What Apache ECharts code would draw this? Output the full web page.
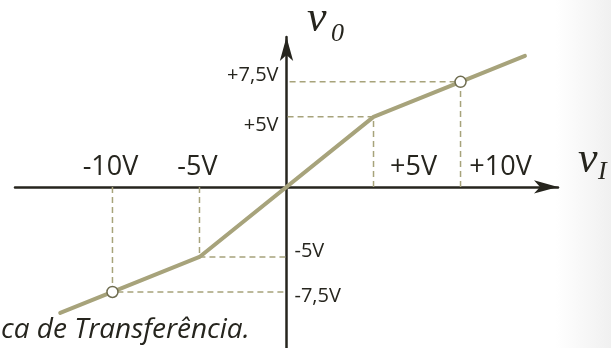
<!DOCTYPE html>
<html>
<head>
<meta charset="utf-8">
<script src="https://cdn.jsdelivr.net/npm/echarts@6/dist/echarts.min.js"></script>
<style>
  html, body { margin: 0; padding: 0; }
  body { background: linear-gradient(to right, #ffffff 91%, #f0f0f0 100%); }
  #main { width: 611px; height: 348px; }
</style>
</head>
<body>
<div id="main"></div>
<script>
// transfer characteristic v0 = f(vI), in volts
var vIn  = [-13, -10, -5, 5, 10, 13.7];
var vOut = [-9, -7.5, -5, 5, 7.5, 9.35];

// points that get dashed guides to both axes
var kneeIn  = [-10, -5, 5, 10];
var kneeOut = [-7.5, -5, 5, 7.5];

// open circles
var ringIn  = [-10, 10];
var ringOut = [-7.5, 7.5];

// tick labels
var xTicks = [-10, -5, 5, 10];
var xTickNames = ['-10V', '-5V', '+5V', '+10V'];
var yTicks = [7.5, 5, -5, -7.5];
var yTickNames = ['+7,5V', '+5V', '-5V', '-7,5V'];

var ink = '#26251e';
var olive = '#a7a37b';

var chart = echarts.init(document.getElementById('main'));

var series = [];

// dashed guides
for (var i = 0; i < kneeIn.length; i++) {
  series.push({
    type: 'line',
    silent: true,
    symbol: 'none',
    z: 1,
    lineStyle: { color: olive, width: 1.5, type: [6, 4] },
    data: [[kneeIn[i], 0], [kneeIn[i], kneeOut[i]], [0, kneeOut[i]]]
  });
}

// main curve
series.push({
  type: 'line',
  symbol: 'none',
  z: 3,
  lineStyle: { color: olive, width: 4, cap: 'round' },
  data: vIn.map(function (x, k) { return [x, vOut[k]]; })
});

// open circles
series.push({
  type: 'scatter',
  z: 4,
  symbol: 'circle',
  symbolSize: 11,
  itemStyle: { color: '#ffffff', borderColor: '#6f6d50', borderWidth: 1.5, opacity: 1 },
  data: ringIn.map(function (x, k) { return [x, ringOut[k]]; })
});

// x tick labels (above the axis)
series.push({
  type: 'scatter',
  symbolSize: 0,
  silent: true,
  itemStyle: { opacity: 1 },
  data: xTicks.map(function (x, k) {
    return {
      value: [x, 0],
      label: {
        show: true,
        position: 'top',
        distance: 6,
        offset: x > 0 ? [40, 0] : [-2, 0],
        formatter: xTickNames[k],
        fontFamily: 'Open Sans',
        fontSize: 27,
        color: ink
      }
    };
  })
});

// y tick labels (left for positive, right for negative)
series.push({
  type: 'scatter',
  symbolSize: 0,
  silent: true,
  itemStyle: { opacity: 1 },
  data: yTicks.map(function (y, k) {
    var off = [0, 0];
    if (y === 7.5) off = [0, -7];
    if (y === 5) off = [0, 8];
    if (y === -5) off = [0, -6];
    if (y === -7.5) off = [0, 4];
    return {
      value: [0, y],
      label: {
        show: true,
        position: y > 0 ? 'left' : 'right',
        distance: 8,
        offset: off,
        formatter: yTickNames[k],
        fontFamily: 'Open Sans',
        fontSize: 20,
        color: ink
      }
    };
  })
});

var option = {
  animation: false,
  grid: { left: 15, right: 53, top: 37, bottom: 0 },
  xAxis: {
    type: 'value',
    min: -15.6,
    max: 15.6,
    axisLine: {
      onZero: true,
      symbol: ['none', 'arrow'],
      symbolSize: [10, 24],
      lineStyle: { color: ink, width: 2.5 }
    },
    axisTick: { show: false },
    axisLabel: { show: false },
    splitLine: { show: false }
  },
  yAxis: {
    type: 'value',
    min: -11.5,
    max: 10.7,
    axisLine: {
      onZero: true,
      symbol: ['none', 'arrow'],
      symbolSize: [10, 24],
      lineStyle: { color: ink, width: 2.5 }
    },
    axisTick: { show: false },
    axisLabel: { show: false },
    splitLine: { show: false }
  },
  graphic: [
    { type: 'text', x: 307, y: 19, style: { text: 'v', font: 'italic 44px "Liberation Serif"', fill: ink, verticalAlign: 'middle' } },
    { type: 'text', x: 331, y: 34, style: { text: '0', font: 'italic 26px "Liberation Serif"', fill: ink, verticalAlign: 'middle' } },
    { type: 'text', x: 578, y: 160, style: { text: 'v', font: 'italic 44px "Liberation Serif"', fill: ink, verticalAlign: 'middle' } },
    { type: 'text', x: 598, y: 172, style: { text: 'I', font: 'italic 26px "Liberation Serif"', fill: ink, verticalAlign: 'middle' } },
    { type: 'text', x: 1, y: 330, style: { text: 'ca de Transferência.', font: 'italic 28px "Open Sans"', fill: ink, verticalAlign: 'middle' } }
  ],
  series: series
};

chart.setOption(option);
</script>
</body>
</html>
